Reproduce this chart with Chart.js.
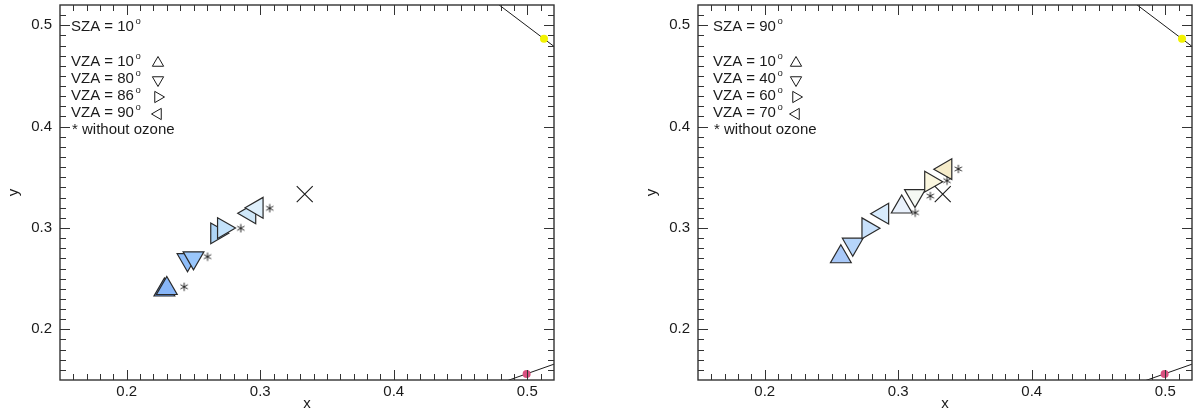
<!DOCTYPE html>
<html>
<head>
<meta charset="utf-8">
<script src="https://cdn.jsdelivr.net/npm/chart.js@4.4.0/dist/chart.umd.min.js"></script>
<style>
  html, body { margin: 0; padding: 0; background: #fff; overflow: hidden; }
  #wrap { position: relative; width: 1195px; height: 413px; }
  canvas { position: absolute; top: 0; }
  #leftChart { left: 0; }
  #rightChart { left: 638px; }
</style>
</head>
<body>
<div id="wrap">
  <canvas id="leftChart" width="560" height="413"></canvas>
  <canvas id="rightChart" width="557" height="413"></canvas>
</div>
<script>
// axes
const xMin = 0.15, xMax = 0.52, yMin = 0.15, yMax = 0.52;
const xTicks = [0.2, 0.3, 0.4, 0.5];
const yTicks = [0.2, 0.3, 0.4, 0.5];
const xTickLabels = ['0.2', '0.3', '0.4', '0.5'];
const yTickLabels = ['0.2', '0.3', '0.4', '0.5'];

// piece of the spectral locus (570-590 nm) and the purple line
const locusX = [0.4441, 0.5125, 0.5752];
const locusY = [0.5547, 0.4866, 0.4242];
const purpleX = [0.1741, 0.7347];
const purpleY = [0.0050, 0.2653];
const yellowX = [0.5125], yellowY = [0.4866];
const pinkX = [0.4995], pinkY = [0.1560];
const whiteX = [0.3333], whiteY = [0.3333];

// left panel, SZA = 10
const leftSza = 10;
const leftVza = [10, 80, 86, 90];
const leftOzoneX = [0.2282, 0.2455, 0.2674, 0.2921];
const leftOzoneY = [0.2388, 0.2687, 0.2947, 0.3145];
const leftNoOzoneX = [0.2300, 0.2500, 0.2725, 0.2976];
const leftNoOzoneY = [0.2403, 0.2705, 0.2999, 0.3199];
const leftStarX = [0.2430, 0.2605, 0.2854, 0.3071];
const leftStarY = [0.2420, 0.2717, 0.2997, 0.3194];

// right panel, SZA = 90
const rightSza = 90;
const rightVza = [10, 40, 60, 70];
const rightOzoneX = [0.2570, 0.2659, 0.2773, 0.2883];
const rightOzoneY = [0.2716, 0.2840, 0.2997, 0.3141];
const rightNoOzoneX = [0.3026, 0.3125, 0.3243, 0.3356];
const rightNoOzoneY = [0.3207, 0.3320, 0.3457, 0.3580];
const rightStarX = [0.3127, 0.3240, 0.3365, 0.3450];
const rightStarY = [0.3151, 0.3315, 0.3467, 0.3582];

// marker fill colours
const leftOzoneColors = ['#6d9ef0', '#8ebdf9', '#aed5f7', '#cfe7f8'];
const leftNoOzoneColors = ['#88b6f8', '#9ac7fc', '#c3e2fb', '#dff0fc'];
const rightOzoneColors = ['#a9c9f9', '#b6d5fa', '#c8e1fc', '#d7ebfd'];
const rightNoOzoneColors = ['#e9f1fc', '#f5f8f3', '#fbf7df', '#f6ecca'];
const markerRotation = [0, 180, 90, 270];

const FONT = '"Liberation Sans", Arial, Helvetica, sans-serif';
const INK = '#1a1a1a';

const toPts = (xs, ys) => xs.map((x, i) => ({ x, y: ys[i] }));

function makeAsterisk() {
  const c = document.createElement('canvas');
  c.width = c.height = 10;
  const g = c.getContext('2d');
  g.strokeStyle = '#111';
  g.lineWidth = 0.9;
  g.beginPath();
  [90, 30, 150].forEach(deg => {
    const r = deg * Math.PI / 180;
    g.moveTo(5 + Math.cos(r) * 4.2, 5 - Math.sin(r) * 4.2);
    g.lineTo(5 - Math.cos(r) * 4.2, 5 + Math.sin(r) * 4.2);
  });
  g.stroke();
  return c;
}
const asterisk = makeAsterisk();

// frame with inward ticks on all four sides
const frameTicks = {
  id: 'frameTicks',
  afterDraw(chart) {
    const { ctx, chartArea: a, scales: { x, y } } = chart;
    ctx.save();
    ctx.strokeStyle = '#333';
    ctx.lineWidth = 1;
    ctx.beginPath();
    for (let i = 16; i <= 51; i++) {
      const v = i / 100;
      const len = i % 10 === 0 ? 10 : 6;
      const px = Math.round(x.getPixelForValue(v)) + 0.5;
      ctx.moveTo(px, a.bottom); ctx.lineTo(px, a.bottom - len);
      ctx.moveTo(px, a.top); ctx.lineTo(px, a.top + len);
      const py = Math.round(y.getPixelForValue(v)) + 0.5;
      ctx.moveTo(a.left, py); ctx.lineTo(a.left + len, py);
      ctx.moveTo(a.right, py); ctx.lineTo(a.right - len, py);
    }
    ctx.stroke();
    ctx.lineWidth = 1.4;
    ctx.strokeRect(a.left, a.top, a.right - a.left, a.bottom - a.top);
    ctx.restore();
  }
};

// text legend in the upper left corner
const angleLegend = {
  id: 'angleLegend',
  afterDraw(chart, args, opts) {
    const { ctx, chartArea: a } = chart;
    const tx = a.left + opts.textOffset;
    const mx = a.left + 98;
    ctx.save();
    ctx.textBaseline = 'middle';
    ctx.textAlign = 'left';
    ctx.fillStyle = INK;
    const row = (label, yy) => {
      ctx.font = '15px ' + FONT;
      ctx.fillText(label, tx, yy);
      const w = ctx.measureText(label).width;
      ctx.font = '9.5px ' + FONT;
      ctx.fillText('o', tx + w + 1.5, yy - 6);
    };
    row('SZA = ' + opts.sza, a.top + 22);
    opts.vza.forEach((v, i) => {
      const yy = a.top + 57 + i * 17;
      ctx.fillStyle = INK;
      row('VZA = ' + v, yy);
      ctx.fillStyle = 'rgba(0,0,0,0)';
      ctx.strokeStyle = INK;
      ctx.lineWidth = 1;
      Chart.helpers.drawPoint(ctx, { pointStyle: 'triangle', rotation: markerRotation[i], radius: 6.5, borderWidth: 1 }, mx, yy + 1);
    });
    ctx.fillStyle = INK;
    ctx.font = '15px ' + FONT;
    ctx.fillText('* without ozone', tx + 1, a.top + 125);
    ctx.restore();
  }
};

const noPadding = s => {
  s.paddingTop = 0; s.paddingBottom = 0; s.paddingLeft = 0; s.paddingRight = 0;
};

function buildChart(id, p) {
  const datasets = [
    { data: toPts(p.starX, p.starY), pointStyle: asterisk, pointRadius: 5 },
    { data: toPts(whiteX, whiteY), pointStyle: 'crossRot', pointRadius: 11.3,
      borderColor: INK, borderWidth: 1.1 },
    { data: toPts(p.noOzoneX, p.noOzoneY), pointStyle: 'triangle', pointRotation: markerRotation,
      pointRadius: 12, backgroundColor: p.noOzoneColors, borderColor: '#2a2a2a', borderWidth: 1.2 },
    { data: toPts(p.ozoneX, p.ozoneY), pointStyle: 'triangle', pointRotation: markerRotation,
      pointRadius: 12, backgroundColor: p.ozoneColors, borderColor: '#2a2a2a', borderWidth: 1.2 },
    { data: toPts(yellowX, yellowY), pointRadius: 4, backgroundColor: '#f2f200', borderWidth: 0 },
    { data: toPts(pinkX, pinkY), pointRadius: 4, backgroundColor: '#d9507f', borderWidth: 0 },
    { data: toPts(locusX, locusY), showLine: true, pointRadius: 0, borderColor: INK, borderWidth: 1 },
    { data: toPts(purpleX, purpleY), showLine: true, pointRadius: 0, borderColor: INK, borderWidth: 1 }
  ];

  return new Chart(document.getElementById(id), {
    type: 'scatter',
    data: { datasets },
    options: {
      responsive: false,
      animation: false,
      events: [],
      layout: { autoPadding: false, padding: { top: 5, right: p.padRight, bottom: 0, left: 0 } },
      plugins: {
        legend: { display: false },
        tooltip: { enabled: false },
        angleLegend: { sza: p.sza, vza: p.vza, textOffset: p.textOffset }
      },
      scales: {
        x: {
          type: 'linear', min: xMin, max: xMax,
          afterBuildTicks: s => { s.ticks = xTicks.map(v => ({ value: v })); },
          afterFit: s => { s.height = 33; noPadding(s); },
          grid: { display: false, drawTicks: false },
          border: { display: false },
          ticks: { padding: 3, color: INK, font: { family: FONT, size: 15 },
            callback: (v, i) => xTickLabels[i] },
          title: { display: true, text: 'x', color: INK, font: { family: FONT, size: 15 },
            padding: { top: 0, bottom: 0 } }
        },
        y: {
          type: 'linear', min: yMin, max: yMax,
          afterBuildTicks: s => { s.ticks = yTicks.map(v => ({ value: v })); },
          afterFit: s => { s.width = 60; noPadding(s); },
          grid: { display: false, drawTicks: false },
          border: { display: false },
          ticks: { padding: 8, color: INK, font: { family: FONT, size: 15 },
            callback: (v, i) => yTickLabels[i] },
          title: { display: true, text: 'y', color: INK, font: { family: FONT, size: 15 },
            padding: { top: 5, bottom: 0 } }
        }
      }
    },
    plugins: [frameTicks, angleLegend]
  });
}

buildChart('leftChart', {
  sza: leftSza, vza: leftVza, textOffset: 11, padRight: 6,
  ozoneX: leftOzoneX, ozoneY: leftOzoneY, noOzoneX: leftNoOzoneX, noOzoneY: leftNoOzoneY,
  starX: leftStarX, starY: leftStarY,
  ozoneColors: leftOzoneColors, noOzoneColors: leftNoOzoneColors
});

buildChart('rightChart', {
  sza: rightSza, vza: rightVza, textOffset: 15, padRight: 3,
  ozoneX: rightOzoneX, ozoneY: rightOzoneY, noOzoneX: rightNoOzoneX, noOzoneY: rightNoOzoneY,
  starX: rightStarX, starY: rightStarY,
  ozoneColors: rightOzoneColors, noOzoneColors: rightNoOzoneColors
});
</script>
</body>
</html>
